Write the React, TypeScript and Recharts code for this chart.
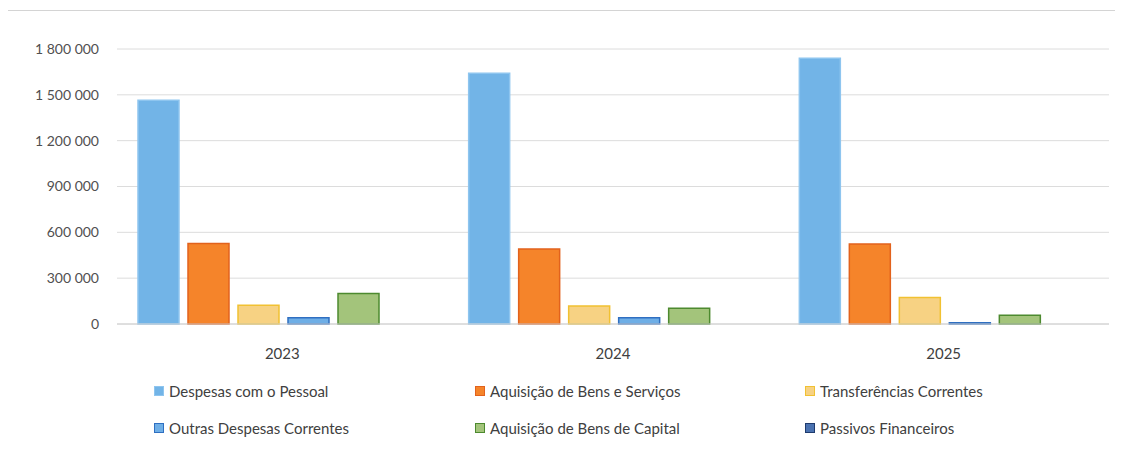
import React from 'react';
import { BarChart, Bar, XAxis, YAxis, CartesianGrid, Legend } from 'recharts';

const years = ['2023', '2024', '2025'];
const pessoal = [1465000, 1641000, 1739000];
const bensServicos = [527000, 491000, 524000];
const transferencias = [123000, 118000, 173000];
const outrasCorrentes = [41000, 41000, 9000];
const bensCapital = [199000, 103000, 57000];
const passivos = [0, 0, 0];
const yTicks = [0, 300000, 600000, 900000, 1200000, 1500000, 1800000];

const series = [
  { key: 'pessoal', name: 'Despesas com o Pessoal', fill: '#72b4e7', stroke: '#8ec5ef', values: pessoal },
  { key: 'bensServicos', name: 'Aquisição de Bens e Serviços', fill: '#f5842a', stroke: '#e2621c', values: bensServicos },
  { key: 'transferencias', name: 'Transferências Correntes', fill: '#f7d283', stroke: '#f1c132', values: transferencias },
  { key: 'outrasCorrentes', name: 'Outras Despesas Correntes', fill: '#6eaee6', stroke: '#2f6fc1', values: outrasCorrentes },
  { key: 'bensCapital', name: 'Aquisição de Bens de Capital', fill: '#a3c47b', stroke: '#4d8a2f', values: bensCapital },
  { key: 'passivos', name: 'Passivos Financeiros', fill: '#4a72b0', stroke: '#1f3b6e', values: passivos },
];

const data = years.map((year, i) => {
  const row: Record<string, string | number> = { year };
  series.forEach(s => { row[s.key] = s.values[i]; });
  return row;
});

const fmt = (v: number) => String(v).replace(/\B(?=(\d{3})+(?!\d))/g, ' ');

const colX = [146, 467, 797];

const LegendGrid = () => (
  <div style={{ position: 'relative', width: 1100, height: 70 }}>
    {series.map((s, i) => (
      <div
        key={s.key}
        style={{
          position: 'absolute',
          left: colX[i % 3],
          top: i < 3 ? 0 : 37,
          display: 'flex',
          alignItems: 'center',
          fontFamily: 'Lato, sans-serif',
          fontSize: 15,
          color: '#404040',
          whiteSpace: 'nowrap',
        }}
      >
        <span
          style={{
            display: 'inline-block',
            width: 8,
            height: 8,
            background: s.fill,
            border: `1.5px solid ${s.stroke}`,
            marginRight: 5,
          }}
        />
        {s.name}
      </div>
    ))}
  </div>
);

export default function App() {
  return (
    <div style={{ marginTop: 2, marginLeft: -1, width: 1115, height: 444, borderTop: '1px solid #d4d4d4', borderLeft: '1px solid #d4d4d4', background: '#fff' }}>
      <BarChart
        width={1114}
        height={443}
        data={data}
        margin={{ top: 38, right: 13, left: 9, bottom: 30 }}
        barCategoryGap={21}
        barGap={9}
      >
        <CartesianGrid vertical={false} stroke="#dcdcdc" />
        <XAxis
          dataKey="year"
          height={30}
          tickLine={false}
          axisLine={{ stroke: '#d0d0d0' }}
          tickSize={0}
          tickMargin={24}
          tick={{ fill: '#404040', fontSize: 15, fontFamily: 'Lato, sans-serif' }}
        />
        <YAxis
          width={100}
          domain={[0, 1800000]}
          ticks={yTicks}
          tickFormatter={fmt}
          axisLine={false}
          tickLine={false}
          tickSize={0}
          tickMargin={18}
          tick={{ fill: '#505050', fontSize: 14, fontFamily: 'Lato, sans-serif' }}
        />
        <Legend verticalAlign="bottom" height={70} wrapperStyle={{ top: 371, left: 0 }} content={() => <LegendGrid />} />
        {series.map(s => (
          <Bar
            key={s.key}
            dataKey={s.key}
            name={s.name}
            fill={s.fill}
            stroke={s.stroke}
            strokeWidth={1.5}
            isAnimationActive={false}
          />
        ))}
      </BarChart>
    </div>
  );
}
